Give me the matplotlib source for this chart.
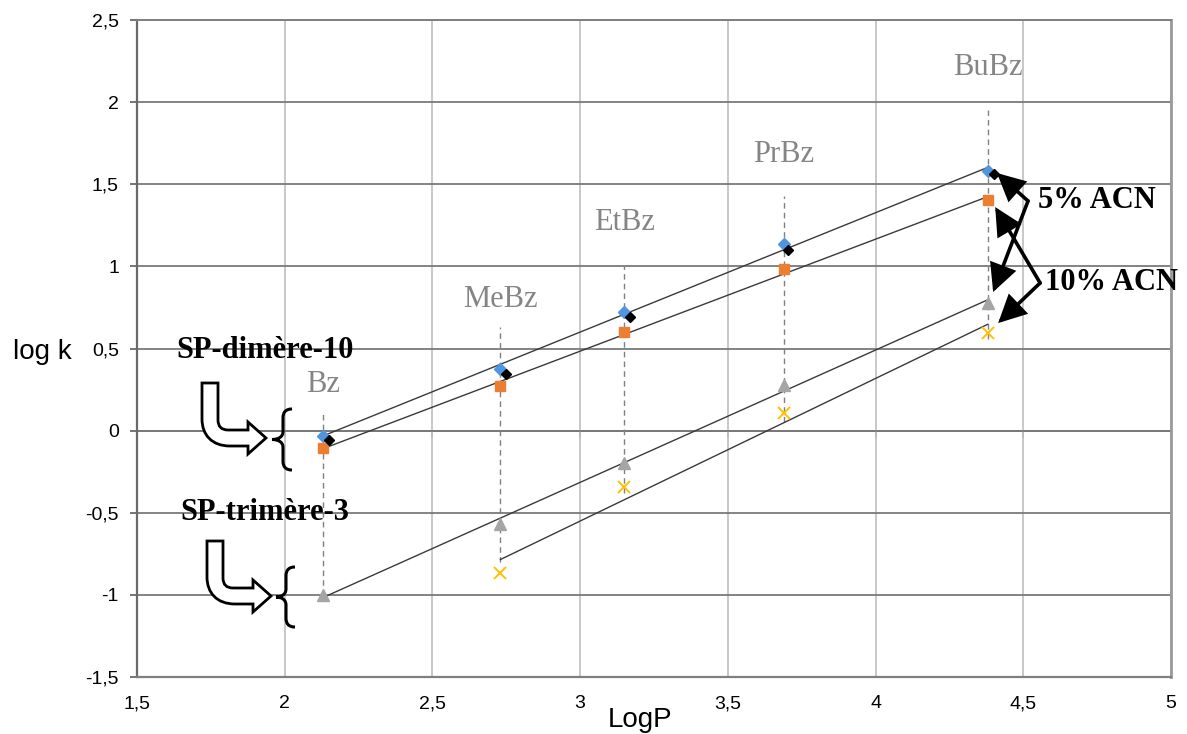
import numpy as np
import matplotlib
matplotlib.use('Agg')
import matplotlib.pyplot as plt
from matplotlib.path import Path
from matplotlib.patches import PathPatch
from matplotlib.transforms import Affine2D
from matplotlib.ticker import FuncFormatter

# ---------------- data ----------------
compounds = ['Bz', 'MeBz', 'EtBz', 'PrBz', 'BuBz']
logP = [2.13, 2.73, 3.15, 3.69, 4.38]

dimere_5acn = [-0.03, 0.375, 0.725, 1.135, 1.58]        # blue diamonds
logP_black = [2.15, 2.75, 3.17, 3.705, 4.40]
dimere_5acn_black = [-0.06, 0.345, 0.69, 1.10, 1.56]    # black diamonds
dimere_10acn = [-0.105, 0.27, 0.60, 0.985, 1.405]       # orange squares
trimere_5acn = [-1.0, -0.57, -0.195, 0.28, 0.78]        # gray triangles
logP_tri10 = [2.73, 3.15, 3.69, 4.38]
trimere_10acn = [-0.867, -0.343, 0.107, 0.594]          # yellow crosses

label_y = [0.28, 0.80, 1.27, 1.68, 2.21]
guide_top = [0.12, 0.63, 1.0, 1.43, 1.95]
guide_bottom = [-1.0, -0.80, -0.38, 0.05, 0.56]

xticks = [1.5, 2, 2.5, 3, 3.5, 4, 4.5, 5]
yticks = [-1.5, -1, -0.5, 0, 0.5, 1, 1.5, 2, 2.5]

# ---------------- figure ----------------
W, H = 1187, 734
plt.rcParams['font.family'] = ['Liberation Sans', 'DejaVu Sans']
fig = plt.figure(figsize=(W / 100, H / 100), dpi=100)
ax = fig.add_axes([137 / W, (H - 677) / H, (1171 - 137) / W, (677 - 20) / H])
ax.set_xlim(1.5, 5)
ax.set_ylim(-1.5, 2.5)
ax.set_xticks(xticks)
ax.set_yticks(yticks)
fmt = FuncFormatter(lambda v, p: ('%g' % v).replace('.', ','))
ax.xaxis.set_major_formatter(fmt)
ax.yaxis.set_major_formatter(fmt)

ax.set_axisbelow(True)
ax.grid(axis='x', color='#c4c4c4', lw=1.3)
ax.grid(axis='y', color='#7a7a7a', lw=1.3)

ax.spines['left'].set_color('#6a6a6a')
ax.spines['left'].set_linewidth(1.6)
ax.spines['bottom'].set_color('#7f7f7f')
ax.spines['bottom'].set_linewidth(1.6)
ax.spines['top'].set_color('#7f7f7f')
ax.spines['top'].set_linewidth(1.4)
ax.spines['right'].set_color('#9a9a9a')
ax.spines['right'].set_linewidth(2.0)

ax.tick_params(axis='y', direction='out', length=5, width=1.3, color='#6a6a6a',
               labelsize=14, pad=8)
ax.tick_params(axis='x', length=0, labelsize=14, pad=13)

# x axis crossing at y = 0 (tick marks only)
sec = ax.secondary_xaxis(1.5 / 4.0)
sec.set_xticks(xticks)
sec.tick_params(axis='x', direction='out', length=5, width=1.3, color='#6a6a6a',
                labelbottom=False, labeltop=False)
sec.spines['bottom'].set_color('#6a6a6a')
sec.spines['bottom'].set_linewidth(1.3)

ax.set_ylabel('log k', rotation=0, fontsize=20, ha='center', va='center')
ax.yaxis.set_label_coords((42 - 137) / 1034, (677 - 352) / 657)
ax.set_xlabel('LogP', fontsize=20, va='baseline')
ax.xaxis.set_label_coords((640 - 137) / 1034, (677 - 727) / 657)

# dashed guides
for x, y0, y1 in zip(logP, guide_bottom, guide_top):
    ax.plot([x, x], [y0, y1], color='#808080', lw=1.0, dashes=(4, 3), zorder=2)

# trend lines (least squares over each series' x range)
def trend(xs, ys):
    xs = np.asarray(xs); ys = np.asarray(ys)
    a, b = np.polyfit(xs, ys, 1)
    xx = np.array([xs.min(), xs.max()])
    ax.plot(xx, a * xx + b, color='#3a3a3a', lw=1.0, zorder=3)

trend(logP, dimere_5acn)
trend(logP, dimere_10acn)
trend(logP, trimere_5acn)
trend(logP_tri10, trimere_10acn)

# markers
ax.plot(logP, dimere_5acn, 'D', color='#4f95e0', ms=6.5, mec='#4f95e0', zorder=4)
ax.plot(logP_black, dimere_5acn_black, 'D', color='black', ms=5.5, zorder=5)
ax.plot(logP, dimere_10acn, 's', color='#ED7D31', ms=6.5, zorder=4)
ax.plot(logP, trimere_5acn, '^', color='#A5A5A5', ms=8, zorder=4)
ax.plot(logP_tri10, trimere_10acn, 'x', color='#FFC000', ms=9, mew=1.4, zorder=4)

serif = ['Liberation Serif', 'DejaVu Serif']
for name, x, y in zip(compounds, logP, label_y):
    ax.text(x, y, name, ha='center', va='center', fontsize=22, color='#858585',
            family=serif)

ax.text(1.933, 0.49, 'SP-dimère-10', ha='center', va='center', fontsize=22,
        fontweight='bold', family=serif)
ax.text(1.933, -0.50, 'SP-trimère-3', ha='center', va='center', fontsize=22,
        fontweight='bold', family=serif)
ax.text(4.55, 1.40, '5% ACN', ha='left', va='center', fontsize=22,
        fontweight='bold', family=serif)
ax.text(4.575, 0.90, '10% ACN', ha='left', va='center', fontsize=22,
        fontweight='bold', family=serif)

aprops = dict(arrowstyle='-|>,head_length=0.8,head_width=0.4', lw=2.6,
              color='black', mutation_scale=20, shrinkA=0, shrinkB=0,
              joinstyle='miter')
for tip in [(4.411, 1.568), (4.398, 0.844)]:
    ax.annotate('', xy=tip, xytext=(4.516, 1.398), arrowprops=aprops, zorder=6)
for tip in [(4.405, 1.361), (4.415, 0.655)]:
    ax.annotate('', xy=tip, xytext=(4.557, 0.899), arrowprops=aprops, zorder=6)

# decorative hollow arrows and braces (in figure pixel coordinates)
pix = Affine2D().scale(1 / W, -1 / H).translate(0, 1) + fig.transFigure

def hollow_arrow(x0, y0):
    rel = [(0, 0), (16, 0), (16, 37), (16, 47), (26, 47), (46, 47), (46, 39),
           (64, 55), (46, 71), (46, 63), (28, 63), (10, 63), (0, 52), (0, 36),
           (0, 0), (0, 0)]
    codes = [Path.MOVETO, Path.LINETO, Path.LINETO, Path.CURVE3, Path.CURVE3,
             Path.LINETO, Path.LINETO, Path.LINETO, Path.LINETO, Path.LINETO,
             Path.LINETO, Path.CURVE4, Path.CURVE4, Path.CURVE4, Path.LINETO,
             Path.CLOSEPOLY]
    verts = [(x0 + dx, y0 + dy) for dx, dy in rel]
    fig.add_artist(PathPatch(Path(verts, codes), facecolor='white',
                             edgecolor='black', lw=2.0, transform=pix, zorder=5))

def brace(xv, ytop, ybot, xtip):
    ym = (ytop + ybot) / 2
    verts = [(xv + 9, ytop), (xv + 3, ytop), (xv, ytop + 3), (xv, ytop + 9),
             (xv, ym - 8), (xv, ym - 3), (xv - 4, ym), (xtip, ym),
             (xv - 4, ym), (xv, ym + 3), (xv, ym + 8),
             (xv, ybot - 9), (xv, ybot - 3), (xv + 3, ybot), (xv + 9, ybot)]
    codes = [Path.MOVETO, Path.CURVE4, Path.CURVE4, Path.CURVE4,
             Path.LINETO, Path.CURVE4, Path.CURVE4, Path.CURVE4,
             Path.CURVE4, Path.CURVE4, Path.CURVE4,
             Path.LINETO, Path.CURVE4, Path.CURVE4, Path.CURVE4]
    fig.add_artist(PathPatch(Path(verts, codes), facecolor='none',
                             edgecolor='black', lw=2.2, transform=pix, zorder=5))

hollow_arrow(202, 383)
hollow_arrow(207, 541)
brace(283, 409, 470, 272)
brace(286, 567, 627, 276)

fig.savefig('out.png', dpi=100)
